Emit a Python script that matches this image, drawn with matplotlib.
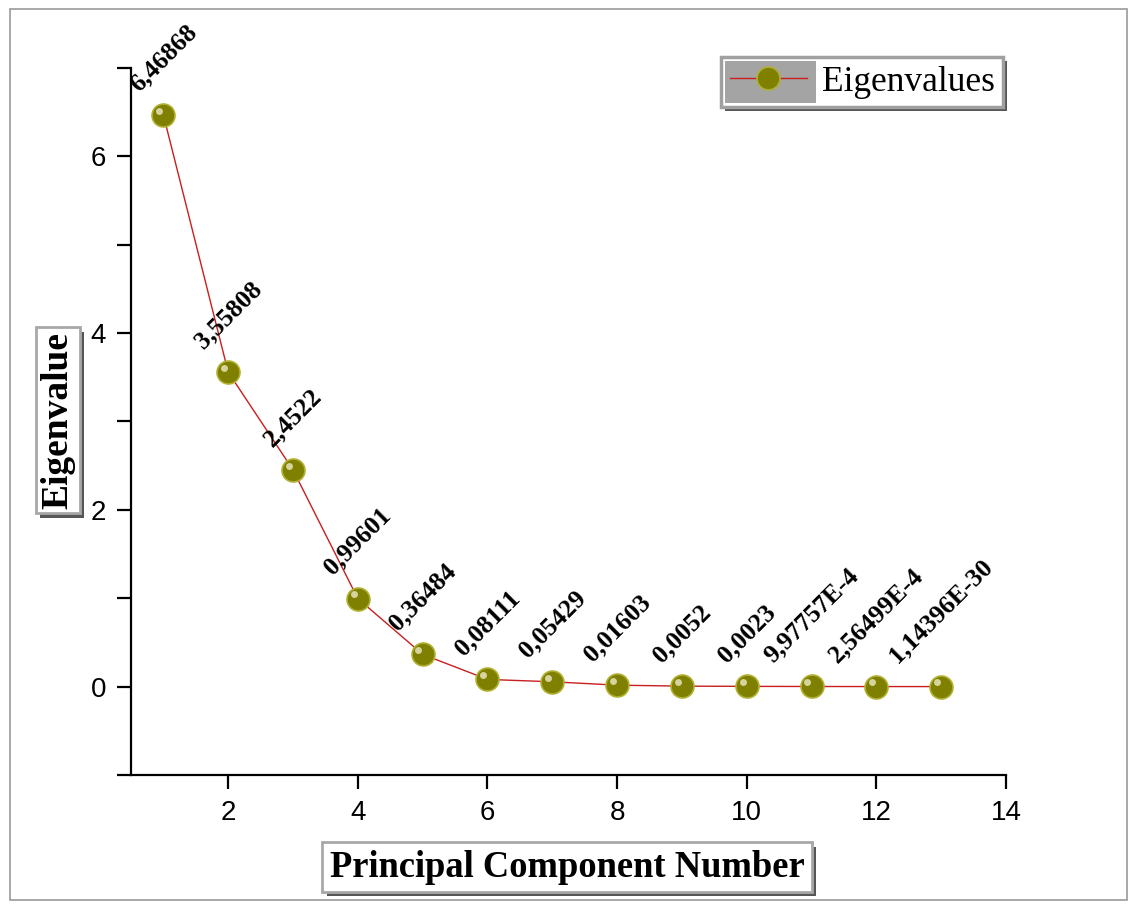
import math
import matplotlib
matplotlib.use("Agg")
import matplotlib.pyplot as plt
import matplotlib.patheffects as pe
from matplotlib.patches import Rectangle
from matplotlib.transforms import ScaledTranslation, IdentityTransform

# scree data: eigenvalue for each principal component
components = list(range(1, 14))
eigenvalues = [6.46868, 3.55808, 2.4522, 0.99601, 0.36484, 0.08111, 0.05429,
               0.01603, 0.0052, 0.0023, 9.97757e-4, 2.56499e-4, 1.14396e-30]
x_ticks = [2, 4, 6, 8, 10, 12, 14]
y_ticks = [-1, 0, 1, 2, 3, 4, 5, 6, 7]
y_ticklabels = ['', '0', '', '2', '', '4', '', '6', '']

SERIF = 'Liberation Serif'
SANS = 'Liberation Sans'


def fmt(v):
    # decimal comma, scientific form for small values
    if v >= 1e-3:
        s = f"{v:.6g}"
    else:
        e = math.floor(math.log10(v))
        m = v / 10 ** e
        s = f"{m:.6g}E{e}"
    return s.replace('.', ',')


def main():
    fig = plt.figure(figsize=(11.35, 9.1), dpi=100)
    ax = fig.add_axes([0.1154, 0.1484, 0.7709, 0.7769])

    line, = ax.plot(components, eigenvalues, color='#c81e1e', lw=1,
                    marker='o', markersize=16.5, markerfacecolor='#7f7f00',
                    markeredgecolor='#b0b030', markeredgewidth=1.2,
                    label='Eigenvalues', zorder=3)
    # small shine on each ball
    shine = ax.transData + ScaledTranslation(-3 / 72, 3 / 72, fig.dpi_scale_trans)
    ax.plot(components, eigenvalues, ls='none', marker='o', markersize=5,
            markerfacecolor='#e4e4b8', markeredgecolor='none', alpha=0.85,
            transform=shine, zorder=4)

    for x, y in zip(components, eigenvalues):
        ax.annotate(fmt(y), (x, y), xytext=(0, 14), textcoords='offset points',
                    rotation=45, ha='center', va='bottom',
                    fontsize=18.5, fontweight='bold', family=SERIF)

    ax.set_xlim(0.5, 14)
    ax.set_ylim(-1, 7)
    ax.set_xticks(x_ticks)
    ax.set_yticks(y_ticks)
    ax.set_yticklabels(y_ticklabels)
    for lab in ax.get_xticklabels() + ax.get_yticklabels():
        lab.set_family(SANS)
        lab.set_fontsize(20)
    ax.tick_params(direction='out', length=10, width=1.6, pad=8)

    ax.spines['top'].set_visible(False)
    ax.spines['right'].set_visible(False)
    for s in ('left', 'bottom'):
        ax.spines[s].set_linewidth(1.6)

    shadow = [pe.SimplePatchShadow(offset=(3, -3), shadow_rgbFace='#444444', alpha=0.9),
              pe.Normal()]
    xl = fig.text(0.4996, 0.047, 'Principal Component Number', ha='center', va='center',
                  fontsize=26.3, fontweight='bold', family=SERIF,
                  bbox=dict(boxstyle='square,pad=0.2', fc='white', ec='#a8a8a8', lw=2))
    yl = fig.text(0.051, 0.538, 'Eigenvalue', ha='center', va='center', rotation=90,
                  fontsize=27, fontweight='bold', family=SERIF,
                  bbox=dict(boxstyle='square,pad=0.12', fc='white', ec='#a8a8a8', lw=2))
    for t in (xl, yl):
        t.get_bbox_patch().set_path_effects(shadow)

    leg = ax.legend(loc='upper right', bbox_to_anchor=(0.997, 1.016), borderaxespad=0,
                    prop={'family': SERIF, 'size': 25.5}, numpoints=1, handlelength=2.2,
                    fancybox=False, frameon=True, edgecolor='#a0a0a0', facecolor='none',
                    framealpha=1, borderpad=0.25, handletextpad=0.4)
    leg.get_frame().set_linewidth(2.5)
    fig.canvas.draw()
    r = fig.canvas.get_renderer()
    lb = leg.get_window_extent(r)
    tb = leg.get_texts()[0].get_window_extent(r)
    # shadow, white body and grey handle panel under the legend
    ax.add_patch(Rectangle((lb.x0 + 4, lb.y0 - 4), lb.width, lb.height,
                           transform=IdentityTransform(), fc='#555555', ec='none',
                           zorder=4.3, clip_on=False))
    ax.add_patch(Rectangle((lb.x0, lb.y0), lb.width, lb.height,
                           transform=IdentityTransform(), fc='white', ec='none',
                           zorder=4.4, clip_on=False))
    ax.add_patch(Rectangle((lb.x0 + 4, lb.y0 + 4), tb.x0 - lb.x0 - 10, lb.height - 8,
                           transform=IdentityTransform(), fc='#a4a4a4', ec='none',
                           zorder=4.5, clip_on=False))

    # thin frame around the whole figure
    fig.patches.append(Rectangle((0.009, 0.011), 0.984, 0.979, transform=fig.transFigure,
                                 fill=False, ec='#9a9a9a', lw=1.2))

    fig.savefig('out.png', dpi=100)


if __name__ == "__main__":
    main()
